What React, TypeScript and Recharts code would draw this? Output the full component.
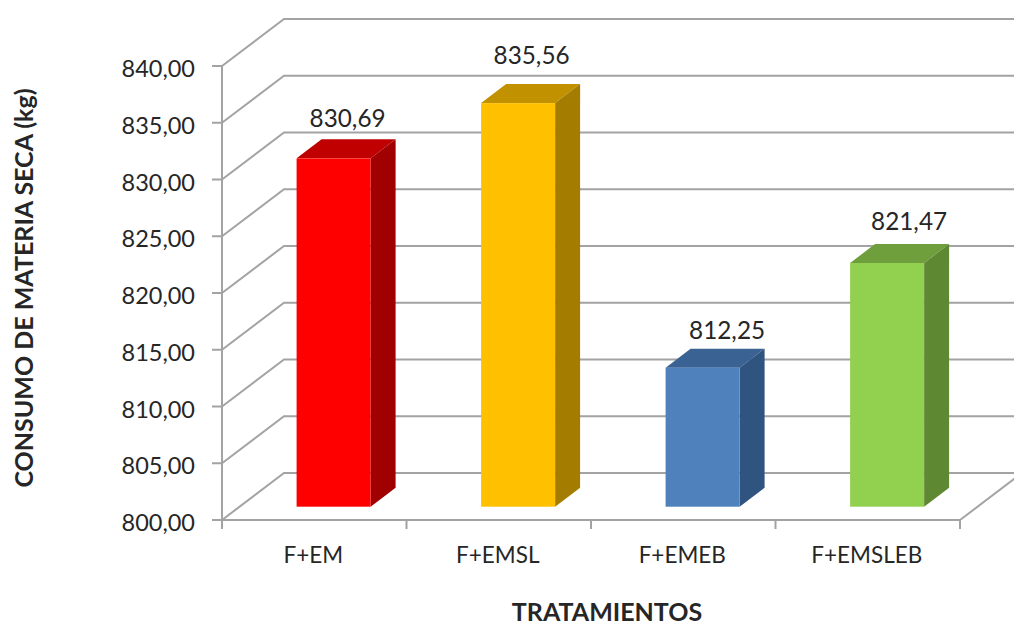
import React from "react";
import { BarChart, Bar, XAxis, YAxis, CartesianGrid, LabelList } from "recharts";

// Treatments and dry-matter intake in kg
const categories = ["F+EM", "F+EMSL", "F+EMEB", "F+EMSLEB"];
const intakeKg = [830.69, 835.56, 812.25, 821.47];
const yTicks = [800, 805, 810, 815, 820, 825, 830, 835, 840];

// Per-bar face colours of the 3D columns
const frontColors = ["#FF0000", "#FFC000", "#4F81BD", "#92D050"];
const topColors = ["#C00000", "#C29100", "#3A6292", "#6F9E3D"];
const sideColors = ["#A00000", "#A37C00", "#2F5480", "#5F8832"];

// Hand-placed offsets of the value labels, relative to the front face's top centre
const labelShiftX = [14, 13.5, 24.5, 22];
const labelRise = [40, 48, 37, 42];

const rows = categories.map((name, i) => ({ name, value: intakeKg[i] }));

const WIDTH = 1014;
const HEIGHT = 626;
const FONT = "Lato, Carlito, Calibri, sans-serif";
const GRID = "#a3a3a3";
const TEXT = "#262626";

// Depth of the chart floor
const WALL_DX = 62;
const WALL_DY = 47;
// Position of the column's front face within the floor, and column depth
const FRONT_DX = 19.6;
const FRONT_DY = 13.3;
const BAR_DX = 25;
const BAR_DY = 19;

const comma = (v: number) => v.toFixed(2).replace(".", ",");

// Each horizontal grid value runs along the left wall and then across the back wall
function wallLine(props: any) {
  const { x1, x2, y1, index } = props;
  const isFloor = Math.abs(y1 - (HEIGHT - 106)) < 1;
  return (
    <g key={`wall-${index}`} fill="none" stroke={GRID} strokeWidth={2}>
      <polyline points={`${x1},${y1} ${x1 + WALL_DX},${y1 - WALL_DY} ${x2 + WALL_DX},${y1 - WALL_DY}`} />
      {isFloor && <line x1={x2} y1={y1} x2={x2 + WALL_DX} y2={y1 - WALL_DY} />}
    </g>
  );
}

function Column3D(props: any) {
  const { x, y, width, height, index } = props;
  const l = x + FRONT_DX;
  const r = l + width;
  const t = y - FRONT_DY;
  const b = t + height;
  return (
    <g>
      <polygon
        points={`${l},${t} ${l + BAR_DX},${t - BAR_DY} ${r + BAR_DX},${t - BAR_DY} ${r},${t}`}
        fill={topColors[index]}
      />
      <polygon
        points={`${r},${t} ${r + BAR_DX},${t - BAR_DY} ${r + BAR_DX},${b - BAR_DY} ${r},${b}`}
        fill={sideColors[index]}
      />
      <rect x={l} y={t} width={width} height={height} fill={frontColors[index]} />
    </g>
  );
}

function ValueLabel(props: any) {
  const { x, y, width, index, value } = props;
  return (
    <text
      x={x + FRONT_DX + width / 2 + labelShiftX[index]}
      y={y - FRONT_DY - labelRise[index]}
      dy="0.35em"
      textAnchor="middle"
      fontFamily={FONT}
      fontSize={24.3}
      fill={TEXT}
    >
      {comma(value)}
    </text>
  );
}

// Category tick: label under the band centre, tick marks on the band edges
function CategoryTick(props: any) {
  const { x, y, payload, index } = props;
  const band = (WIDTH - 54 - 222) / categories.length;
  const left = x - band / 2;
  const axisY = y - 8;
  return (
    <g>
      <line x1={left} y1={axisY} x2={left} y2={axisY + 9} stroke={GRID} strokeWidth={2} />
      {index === categories.length - 1 && (
        <line x1={left + band} y1={axisY} x2={left + band} y2={axisY + 9} stroke={GRID} strokeWidth={2} />
      )}
      <text x={x - 1} y={555} dy="0.35em" textAnchor="middle" fontFamily={FONT} fontSize={22.5} fill={TEXT}>
        {payload.value}
      </text>
    </g>
  );
}

// Value tick: comma-decimal label sitting slightly below its tick mark
function ValueTick(props: any) {
  const { x, y, payload } = props;
  return (
    <text x={x} y={y + 3} dy="0.35em" textAnchor="end" fontFamily={FONT} fontSize={23.5} fill={TEXT}>
      {comma(payload.value)}
    </text>
  );
}

export default function App() {
  return (
    <div style={{ position: "absolute", left: 0, top: 0, width: WIDTH, height: HEIGHT, background: "#fff" }}>
      <BarChart
        width={WIDTH}
        height={HEIGHT}
        data={rows}
        margin={{ top: 66, right: 54, bottom: 0, left: 112 }}
        barSize={74}
      >
        <CartesianGrid vertical={false} horizontal={wallLine} />
        <XAxis
          dataKey="name"
          height={106}
          interval={0}
          tickLine={false}
          axisLine={{ stroke: GRID, strokeWidth: 2 }}
          tick={CategoryTick}
          label={{
            value: "TRATAMIENTOS",
            content: () => (
              <text x={607} y={620.5} textAnchor="middle" fontFamily={FONT} fontSize={25} fontWeight={700} fill={TEXT}>
                TRATAMIENTOS
              </text>
            ),
          }}
        />
        <YAxis
          width={110}
          domain={[800, 840]}
          ticks={yTicks}
          interval={0}
          tickSize={10}
          tickMargin={17}
          axisLine={{ stroke: GRID, strokeWidth: 2 }}
          tickLine={{ stroke: GRID, strokeWidth: 2 }}
          tick={ValueTick}
          label={{
            value: "CONSUMO DE MATERIA SECA (kg)",
            content: () => (
              <text
                transform="translate(24 288) rotate(-90)"
                dy="0.35em"
                textAnchor="middle"
                fontFamily={FONT}
                fontSize={25}
                fontWeight={700}
                fill={TEXT}
              >
                CONSUMO DE MATERIA SECA (kg)
              </text>
            ),
          }}
        />
        <Bar dataKey="value" shape={Column3D} isAnimationActive={false}>
          <LabelList dataKey="value" content={ValueLabel} />
        </Bar>
      </BarChart>
    </div>
  );
}
